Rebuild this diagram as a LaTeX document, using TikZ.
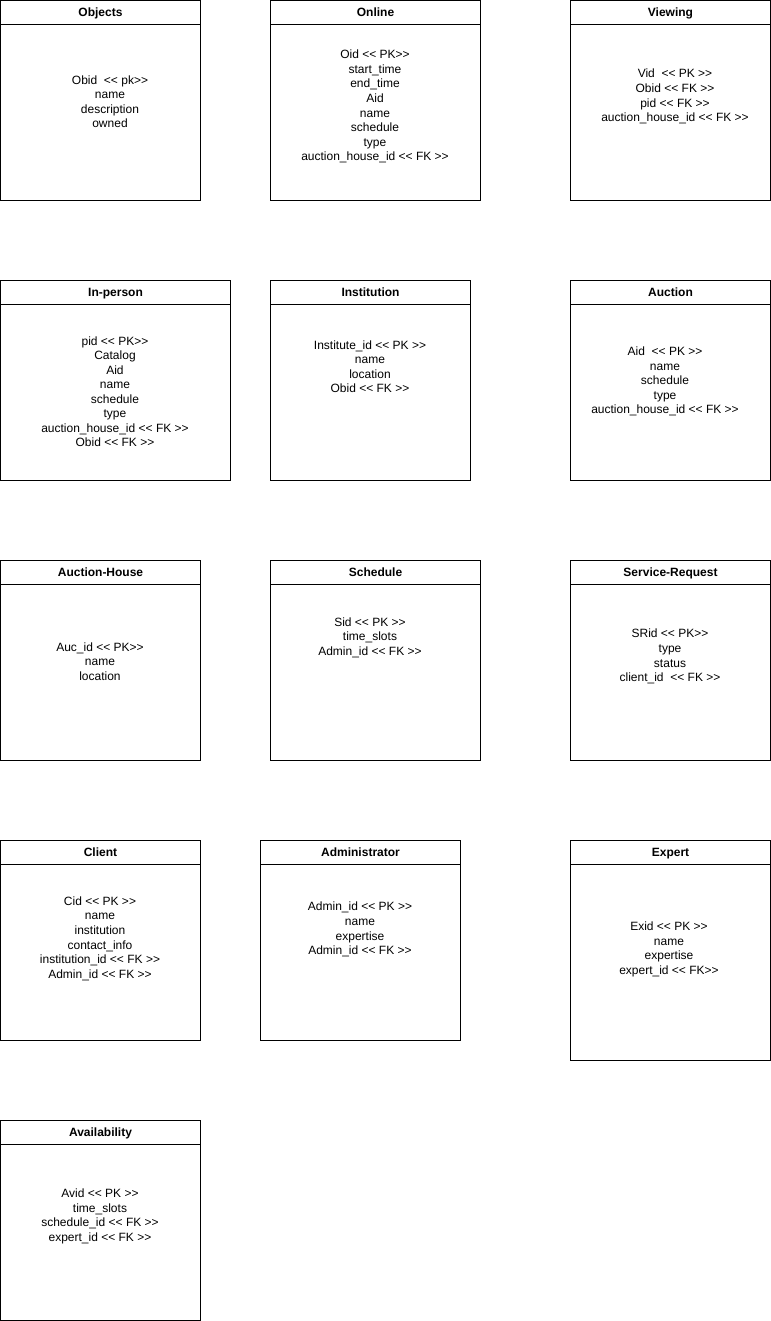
\documentclass[tikz,border=0pt]{standalone}
\usepackage{fontspec}
\setmainfont{Liberation Sans}
\usetikzlibrary{positioning}

\tikzset{
  tablebox/.style={draw,line width=0.75pt,inner sep=0pt,outer sep=0pt,anchor=north west},
  tabletitle/.style={font=\fontsize{9pt}{10.9pt}\selectfont\bfseries,inner sep=0pt,text height=6.6pt,text depth=1.9pt},
  rowtext/.style={align=center,font=\fontsize{9pt}{10.9pt}\selectfont,inner sep=0pt,yshift=-1.2pt}
}

\begin{document}
\begin{tikzpicture}[x=0.75pt,y=-0.75pt]
\useasboundingbox (0,0) rectangle (771,1321);

% tables: name/left/top/width/height/title
\foreach \n/\x/\y/\w/\h/\ttl in {objects/0/0/200/200/Objects,online/270/0/210/200/Online,viewing/570/0/200/200/Viewing,inperson/0/280/230/200/In-person,institution/270/280/200/200/Institution,auction/570/280/200/200/Auction,house/0/560/200/200/Auction-House,schedule/270/560/210/200/Schedule,request/570/560/200/200/Service-Request,client/0/840/200/200/Client,admin/260/840/200/200/Administrator,expert/570/840/200/220/Expert,avail/0/1120/200/200/Availability}
{
\node[tablebox,minimum width=\w*0.75pt,minimum height=\h*0.75pt] (\n) at (\x+0.5,\y+0.5) {};
\draw[line width=0.75pt] ([yshift=-18pt]\n.north west) -- ([yshift=-18pt]\n.north east);
\node[tabletitle] (\n-title) at ([yshift=-9.8pt]\n.north) {\ttl};
}

% attributes
\foreach \n/\bx/\by/\txt in {
objects/110/100/{Obid\ \ <{}< pk>{}>\\name\\description\\owned},
online/375/105/{Oid <{}< PK>{}>\\start\_time\\end\_time\\Aid\\name\\schedule\\type\\auction\_house\_id <{}< FK >{}>},
viewing/675/95/{Vid\ \ <{}< PK >{}>\\Obid <{}< FK >{}>\\pid <{}< FK >{}>\\auction\_house\_id <{}< FK >{}>},
inperson/115/390/{pid <{}< PK>{}>\\Catalog\\Aid\\name\\schedule\\type\\auction\_house\_id <{}< FK >{}>\\Obid <{}< FK >{}>},
institution/370/365/{Institute\_id <{}< PK >{}>\\name\\location\\Obid <{}< FK >{}>},
auction/665/380/{Aid\ \ <{}< PK >{}>\\name\\schedule\\type\\auction\_house\_id <{}< FK >{}>},
house/100/660/{Auc\_id <{}< PK>{}>\\name\\location},
schedule/370/636/{Sid <{}< PK >{}>\\time\_slots\\Admin\_id <{}< FK >{}>},
request/670/655/{SRid <{}< PK>{}>\\type\\status\\client\_id\ \ <{}< FK >{}>},
client/100/937/{Cid <{}< PK >{}>\\name\\institution\\contact\_info\\institution\_id <{}< FK >{}>\\Admin\_id <{}< FK >{}>},
admin/360/928/{Admin\_id <{}< PK >{}>\\name\\expertise\\Admin\_id <{}< FK >{}>},
expert/669/948/{Exid <{}< PK >{}>\\name\\expertise\\expert\_id <{}< FK>{}>},
avail/100/1215/{Avid <{}< PK >{}>\\time\_slots\\schedule\_id <{}< FK >{}>\\expert\_id <{}< FK >{}>}}
\node[rowtext] (\n-body) at (\bx,\by) {\txt};

\end{tikzpicture}
\end{document}
